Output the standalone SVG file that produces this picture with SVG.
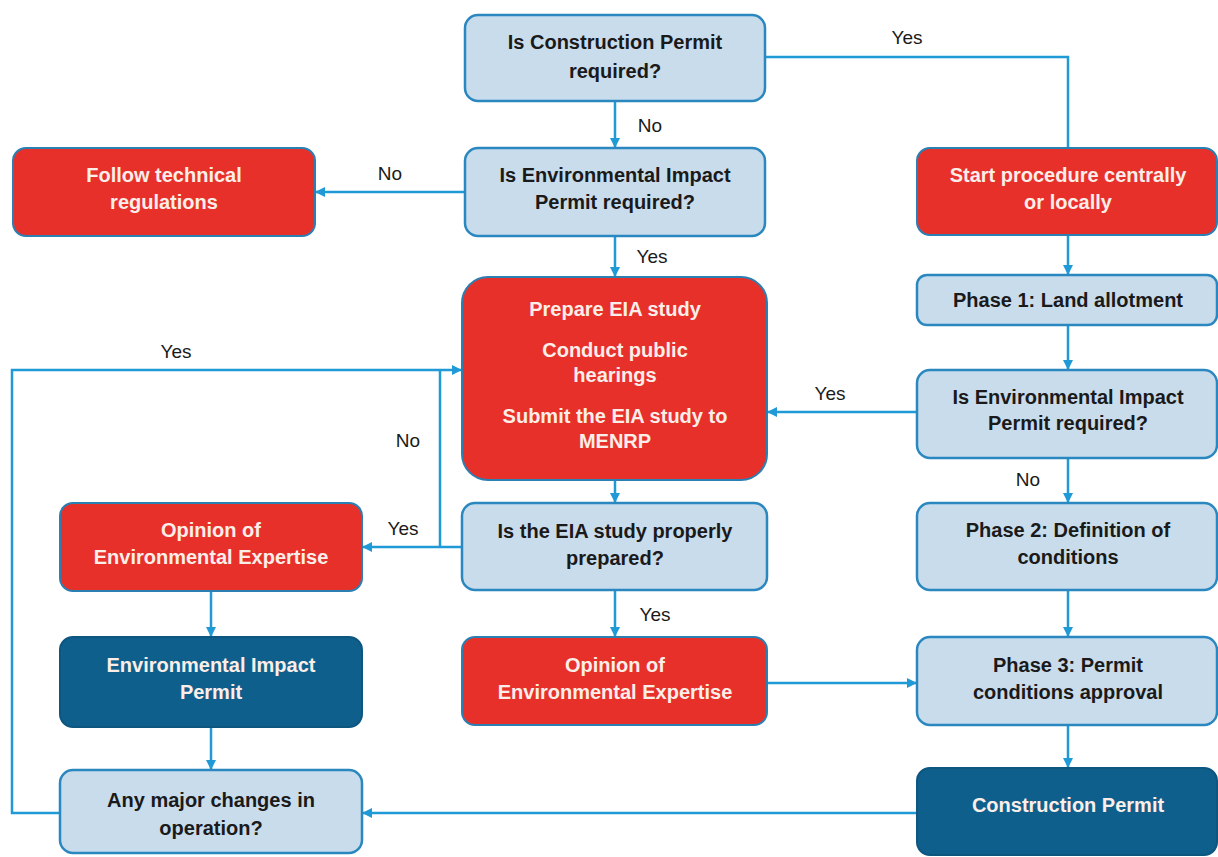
<svg xmlns="http://www.w3.org/2000/svg" width="1218" height="857" viewBox="0 0 1218 857">
  <defs>
    <marker id="arr" viewBox="0 0 10 10" refX="9" refY="5" markerWidth="10" markerHeight="10" markerUnits="userSpaceOnUse" orient="auto">
      <path d="M0,0 L10,5 L0,10 Z" fill="#1f9ad6"/>
    </marker>
    <style>
      .q { fill: #c9dcec; stroke: #2a87bf; stroke-width: 2.5; }
      .r { fill: #e8302b; stroke: #2a7fb3; stroke-width: 2; }
      .d { fill: #0f5f8d; stroke: #0d5680; stroke-width: 2; }
      .tb { font-family: "Liberation Sans", Arial, sans-serif; font-weight: bold; font-size: 20px; fill: #1a1a1a; text-anchor: middle; }
      .tw { font-family: "Liberation Sans", Arial, sans-serif; font-weight: bold; font-size: 20px; fill: #fbeee8; text-anchor: middle; }
      .lb { font-family: "Liberation Sans", Arial, sans-serif; font-size: 19px; fill: #1a1a1a; text-anchor: middle; }
      .c { fill: none; stroke: #1f9ad6; stroke-width: 2.5; }
      .ca { fill: none; stroke: #1f9ad6; stroke-width: 2.5; marker-end: url(#arr); }
    </style>
  </defs>
  <rect width="1218" height="857" fill="#ffffff"/>

  <g id="connectors">
    <path class="ca" d="M615,101 L615,147"/>
    <path class="c" d="M765,57 L1068,57 L1068,148"/>
    <path class="ca" d="M465,192 L316,192"/>
    <path class="ca" d="M615,236 L615,276"/>
    <path class="ca" d="M1068,235 L1068,274"/>
    <path class="ca" d="M1068,325 L1068,369"/>
    <path class="ca" d="M917,412 L768,412"/>
    <path class="ca" d="M1068,458 L1068,502"/>
    <path class="ca" d="M615,480 L615,502"/>
    <path class="ca" d="M462,547 L363,547"/>
    <path class="c" d="M440,547 L440,370"/>
    <path class="ca" d="M60,813 L12,813 L12,370 L461,370"/>
    <path class="ca" d="M211,592 L211,636"/>
    <path class="ca" d="M615,590 L615,636"/>
    <path class="ca" d="M767,683 L916,683"/>
    <path class="ca" d="M1068,590 L1068,636"/>
    <path class="ca" d="M211,727 L211,769"/>
    <path class="ca" d="M1068,725 L1068,767"/>
    <path class="ca" d="M917,813 L363,813"/>
  </g>

  <g id="labels">
    <text class="lb" x="907" y="44">Yes</text>
    <text class="lb" x="650" y="132">No</text>
    <text class="lb" x="390" y="180">No</text>
    <text class="lb" x="652" y="263">Yes</text>
    <text class="lb" x="176" y="358">Yes</text>
    <text class="lb" x="830" y="400">Yes</text>
    <text class="lb" x="408" y="447">No</text>
    <text class="lb" x="1028" y="486">No</text>
    <text class="lb" x="403" y="535">Yes</text>
    <text class="lb" x="655" y="621">Yes</text>
  </g>

  <g id="n-construction-required">
    <rect class="q" x="465" y="15" width="300" height="86" rx="13"/>
    <text class="tb" x="615" y="49">Is Construction Permit</text>
    <text class="tb" x="615" y="78">required?</text>
  </g>
  <g id="n-eip-required">
    <rect class="q" x="465" y="148" width="300" height="88" rx="13"/>
    <text class="tb" x="615" y="182">Is Environmental Impact</text>
    <text class="tb" x="615" y="209">Permit required?</text>
  </g>
  <g id="n-follow">
    <rect class="r" x="13" y="148" width="302" height="88" rx="13"/>
    <text class="tw" x="164" y="182">Follow technical</text>
    <text class="tw" x="164" y="209">regulations</text>
  </g>
  <g id="n-start">
    <rect class="r" x="917" y="148" width="300" height="87" rx="13"/>
    <text class="tw" x="1068" y="182">Start procedure centrally</text>
    <text class="tw" x="1068" y="209">or locally</text>
  </g>
  <g id="n-phase1">
    <rect class="q" x="917" y="275" width="300" height="50" rx="10"/>
    <text class="tb" x="1068" y="307">Phase 1: Land allotment</text>
  </g>
  <g id="n-eia">
    <rect class="r" x="462" y="277" width="305" height="203" rx="26"/>
    <text class="tw" x="615" y="316">Prepare EIA study</text>
    <text class="tw" x="615" y="357">Conduct public</text>
    <text class="tw" x="615" y="382">hearings</text>
    <text class="tw" x="615" y="423">Submit the EIA study to</text>
    <text class="tw" x="615" y="448">MENRP</text>
  </g>
  <g id="n-eip-required-2">
    <rect class="q" x="917" y="370" width="300" height="88" rx="13"/>
    <text class="tb" x="1068" y="404">Is Environmental Impact</text>
    <text class="tb" x="1068" y="430">Permit required?</text>
  </g>
  <g id="n-prepared">
    <rect class="q" x="462" y="503" width="305" height="87" rx="13"/>
    <text class="tb" x="615" y="538">Is the EIA study properly</text>
    <text class="tb" x="615" y="565">prepared?</text>
  </g>
  <g id="n-opinion-left">
    <rect class="r" x="60" y="503" width="302" height="88" rx="13"/>
    <text class="tw" x="211" y="537">Opinion of</text>
    <text class="tw" x="211" y="564">Environmental Expertise</text>
  </g>
  <g id="n-phase2">
    <rect class="q" x="917" y="503" width="300" height="87" rx="13"/>
    <text class="tb" x="1068" y="537">Phase 2: Definition of</text>
    <text class="tb" x="1068" y="564">conditions</text>
  </g>
  <g id="n-eip">
    <rect class="d" x="60" y="637" width="302" height="90" rx="13"/>
    <text class="tw" x="211" y="672">Environmental Impact</text>
    <text class="tw" x="211" y="699">Permit</text>
  </g>
  <g id="n-opinion-mid">
    <rect class="r" x="462" y="637" width="305" height="88" rx="13"/>
    <text class="tw" x="615" y="672">Opinion of</text>
    <text class="tw" x="615" y="699">Environmental Expertise</text>
  </g>
  <g id="n-phase3">
    <rect class="q" x="917" y="637" width="300" height="88" rx="13"/>
    <text class="tb" x="1068" y="672">Phase 3: Permit</text>
    <text class="tb" x="1068" y="699">conditions approval</text>
  </g>
  <g id="n-changes">
    <rect class="q" x="60" y="770" width="302" height="83" rx="13"/>
    <text class="tb" x="211" y="807">Any major changes in</text>
    <text class="tb" x="211" y="835">operation?</text>
  </g>
  <g id="n-construction-permit">
    <rect class="d" x="917" y="768" width="300" height="87" rx="13"/>
    <text class="tw" x="1068" y="812">Construction Permit</text>
  </g>
</svg>
